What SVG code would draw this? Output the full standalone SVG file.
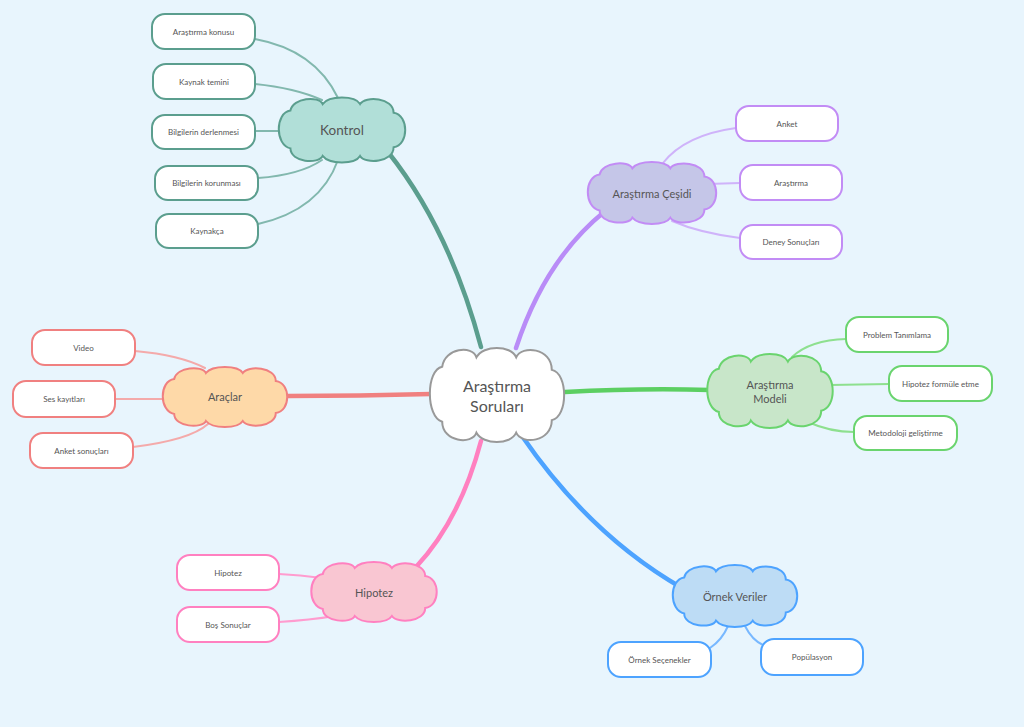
<svg xmlns="http://www.w3.org/2000/svg" xmlns:xlink="http://www.w3.org/1999/xlink" width="1024" height="727" viewBox="0 0 1024 727">
<style>
.leaf{fill:#ffffff;stroke-width:2}
.lt{font-family:Lato,"Open Sans","Liberation Sans",sans-serif;font-size:8px;fill:#555;text-anchor:middle;dominant-baseline:central}
.ct{font-family:Lato,"Open Sans","Liberation Sans",sans-serif;font-size:11px;fill:#555;text-anchor:middle;dominant-baseline:central}
.main{fill:none;stroke-width:4.5;stroke-linecap:round}
.br{fill:none;stroke-width:2;stroke-linecap:round}
</style>
<defs>
<path id="cloud" vector-effect="non-scaling-stroke" d="M -40,-18 C -38,-30 -18,-32 -15,-24 C -10,-32 10,-32 14,-24 C 18,-32 40,-30 40,-16 C 52,-14 52,14 40,16 C 40,30 18,32 14,24 C 10,32 -10,32 -15,24 C -18,32 -40,30 -40,17 C -52,14 -52,-16 -40,-18 Z"/>
</defs>
<rect width="1024" height="727" fill="#e8f5fd"/>
<g id="connectors">
<path class="main" stroke="#5b9e8e" d="M 388,152 Q 450,230 481,347"/>
<path class="main" stroke="#b98cf7" d="M 516,348 Q 545,260 604,212"/>
<path class="main" stroke="#5ccf62" d="M 565,392 Q 640,388 710,390"/>
<path class="main" stroke="#f08080" d="M 431,394 Q 360,396 288,396"/>
<path class="main" stroke="#ff80c0" d="M 481,441 Q 460,520 416,567"/>
<path class="main" stroke="#4da3ff" d="M 522,436 Q 590,535 682,588"/>
<g stroke="#82b8ae">
<path class="br" d="M 255,39 Q 315,50 338,98"/>
<path class="br" d="M 255,84 Q 295,88 322,100"/>
<path class="br" d="M 255,131 L 282,131"/>
<path class="br" d="M 258,178 Q 300,175 322,160"/>
<path class="br" d="M 258,224 Q 320,210 338,160"/>
</g>
<g stroke="#cfb3fa">
<path class="br" d="M 663,163 Q 685,135 736,128"/>
<path class="br" d="M 707,184 L 740,183"/>
<path class="br" d="M 672,221 Q 700,233 740,238"/>
</g>
<g stroke="#8ee08f">
<path class="br" d="M 792,357 Q 810,340 846,339"/>
<path class="br" d="M 830,385 L 889,384"/>
<path class="br" d="M 808,422 Q 830,432 854,432"/>
</g>
<g stroke="#f4aaaa">
<path class="br" d="M 135,351 Q 180,355 205,368"/>
<path class="br" d="M 115,399 L 165,399"/>
<path class="br" d="M 133,447 Q 190,440 208,424"/>
</g>
<g stroke="#ff9ccf">
<path class="br" d="M 279,574 Q 300,575 322,578"/>
<path class="br" d="M 279,622 Q 310,620 335,616"/>
</g>
<g stroke="#78b8ff">
<path class="br" d="M 710,648 Q 722,640 728,626"/>
<path class="br" d="M 745,626 Q 752,640 763,645"/>
</g>
</g>
<g id="center">
<use xlink:href="#cloud" transform="translate(497,395) scale(1.37,1.57)" fill="#ffffff" stroke="#999999" stroke-width="2"/>
<text x="497" y="385" class="ct" style="font-size:16px">Araştırma</text>
<text x="497" y="405" class="ct" style="font-size:16px">Soruları</text>
</g>
<g id="kontrol">
<use xlink:href="#cloud" transform="translate(342,130) scale(1.29,1.08)" fill="#b1dfd8" stroke="#5b9e8e" stroke-width="2"/>
<text x="342" y="130" class="ct" style="font-size:13.5px">Kontrol</text>
</g>
<g id="k1"><rect class="leaf" stroke="#5b9e8e" x="152" y="14" width="103" height="35" rx="13"/><text class="lt" x="203.5" y="31.5">Araştırma konusu</text></g>
<g id="k2"><rect class="leaf" stroke="#5b9e8e" x="153" y="64" width="102" height="35" rx="13"/><text class="lt" x="204" y="81.5">Kaynak temini</text></g>
<g id="k3"><rect class="leaf" stroke="#5b9e8e" x="152" y="115" width="103" height="34" rx="13"/><text class="lt" x="203.5" y="132">Bilgilerin derlenmesi</text></g>
<g id="k4"><rect class="leaf" stroke="#5b9e8e" x="155" y="166" width="103" height="34" rx="13"/><text class="lt" x="206.5" y="183">Bilgilerin korunması</text></g>
<g id="k5"><rect class="leaf" stroke="#5b9e8e" x="156" y="214" width="102" height="34" rx="13"/><text class="lt" x="207" y="231">Kaynakça</text></g>
<g id="cesidi">
<use xlink:href="#cloud" transform="translate(652,193) scale(1.31,1.03)" fill="#c5c6e8" stroke="#c28cf5" stroke-width="2"/>
<text x="652" y="193" class="ct">Araştırma Çeşidi</text>
</g>
<g id="c1"><rect class="leaf" stroke="#c28cf5" x="736" y="106" width="102" height="35" rx="13"/><text class="lt" x="787" y="123.5">Anket</text></g>
<g id="c2"><rect class="leaf" stroke="#c28cf5" x="740" y="165" width="102" height="35" rx="13"/><text class="lt" x="791" y="182.5">Araştırma</text></g>
<g id="c3"><rect class="leaf" stroke="#c28cf5" x="740" y="225" width="102" height="34" rx="13"/><text class="lt" x="791" y="242">Deney Sonuçları</text></g>
<g id="modeli">
<use xlink:href="#cloud" transform="translate(770,391) scale(1.28,1.23)" fill="#c8e6c9" stroke="#6ad46e" stroke-width="2"/>
<text x="770" y="384" class="ct">Araştırma</text>
<text x="770" y="398" class="ct">Modeli</text>
</g>
<g id="m1"><rect class="leaf" stroke="#6ad46e" x="846" y="317" width="102" height="35" rx="13"/><text class="lt" x="897" y="334.5">Problem Tanımlama</text></g>
<g id="m2"><rect class="leaf" stroke="#6ad46e" x="889" y="366" width="103" height="35" rx="13"/><text class="lt" x="940.5" y="383.5">Hipotez formüle etme</text></g>
<g id="m3"><rect class="leaf" stroke="#6ad46e" x="854" y="416" width="103" height="34" rx="13"/><text class="lt" x="905.5" y="433">Metodoloji geliştirme</text></g>
<g id="araclar">
<use xlink:href="#cloud" transform="translate(225,397) scale(1.27,1.0)" fill="#fed9a8" stroke="#f08080" stroke-width="2"/>
<text x="225" y="396" class="ct">Araçlar</text>
</g>
<g id="a1"><rect class="leaf" stroke="#f08080" x="32" y="330" width="103" height="35" rx="13"/><text class="lt" x="83.5" y="347.5">Video</text></g>
<g id="a2"><rect class="leaf" stroke="#f08080" x="13" y="381" width="102" height="36" rx="13"/><text class="lt" x="64" y="399">Ses kayıtları</text></g>
<g id="a3"><rect class="leaf" stroke="#f08080" x="30" y="433" width="103" height="35" rx="13"/><text class="lt" x="81.5" y="450.5">Anket sonuçları</text></g>
<g id="hipotez">
<use xlink:href="#cloud" transform="translate(374,592) scale(1.28,1.0)" fill="#f9c6d2" stroke="#ff80c0" stroke-width="2"/>
<text x="374" y="592" class="ct">Hipotez</text>
</g>
<g id="h1"><rect class="leaf" stroke="#ff80c0" x="177" y="555" width="102" height="35" rx="13"/><text class="lt" x="228" y="572.5">Hipotez</text></g>
<g id="h2"><rect class="leaf" stroke="#ff80c0" x="177" y="607" width="102" height="35" rx="13"/><text class="lt" x="228" y="624.5">Boş Sonuçlar</text></g>
<g id="ornek">
<use xlink:href="#cloud" transform="translate(735,596) scale(1.27,1.03)" fill="#bddcf5" stroke="#4da3ff" stroke-width="2"/>
<text x="735" y="596" class="ct">Örnek Veriler</text>
</g>
<g id="o1"><rect class="leaf" stroke="#4da3ff" x="608" y="642" width="103" height="35" rx="13"/><text class="lt" x="659.5" y="659.5">Örnek Seçenekler</text></g>
<g id="o2"><rect class="leaf" stroke="#4da3ff" x="761" y="639" width="102" height="36" rx="13"/><text class="lt" x="812" y="657">Popülasyon</text></g>
</svg>
